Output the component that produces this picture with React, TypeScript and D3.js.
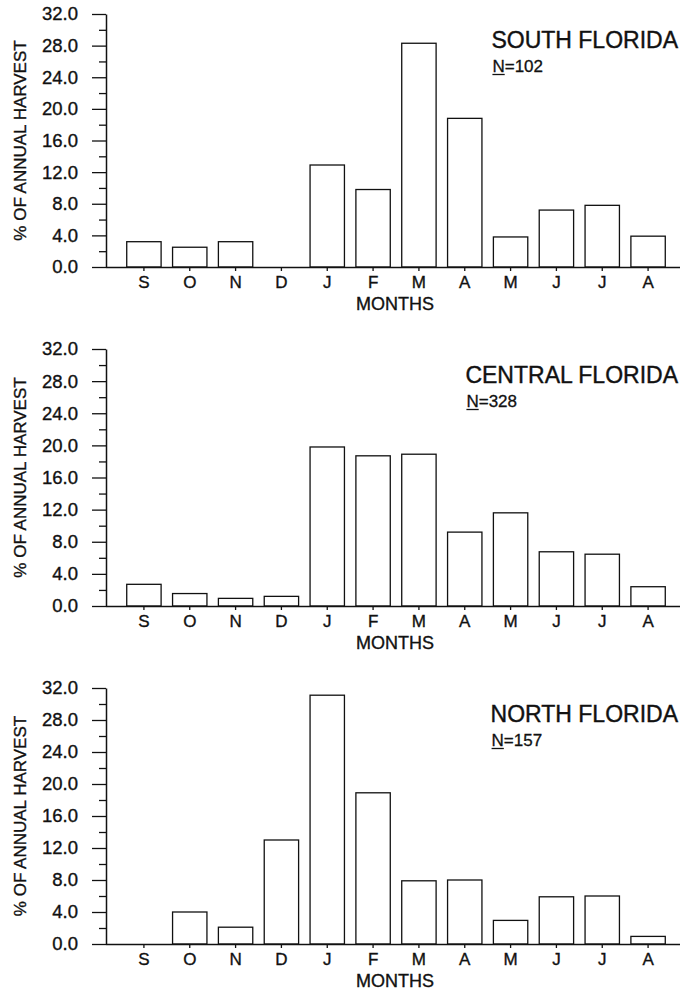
import React, { useEffect, useRef } from "react";
import * as d3 from "d3";

const months = ["S", "O", "N", "D", "J", "F", "M", "A", "M", "J", "J", "A"];
const southValues = [3.2, 2.5, 3.2, 0, 12.9, 9.8, 28.3, 18.8, 3.8, 7.2, 7.8, 3.9];
const centralValues = [2.7, 1.55, 0.95, 1.2, 19.8, 18.7, 18.9, 9.2, 11.6, 6.75, 6.45, 2.4];
const northValues = [0, 4.0, 2.1, 13.0, 31.1, 18.9, 7.9, 8.0, 2.95, 5.9, 6.0, 0.95];
const regionTitles = ["SOUTH FLORIDA", "CENTRAL FLORIDA", "NORTH FLORIDA"];
const sampleSizes = [102, 328, 157];
const yMajorTicks = [0, 4, 8, 12, 16, 20, 24, 28, 32];
const yMinorTicks = [2, 6, 10, 14, 18, 22, 26, 30];
const yLabel = "% OF ANNUAL HARVEST";
const xLabel = "MONTHS";

const W = 680;
const H = 993;
const FONT = "'Liberation Sans', Arial, Helvetica, sans-serif";
const INK = "#111";
const panelTops = [14, 349, 688];
const panelBottoms = [267, 606, 944];
const axisX = 106;

function ink(sel: any, size: number, sw = 0.35) {
  sel
    .attr("font-family", FONT)
    .attr("font-size", size)
    .attr("fill", INK)
    .attr("stroke", INK)
    .attr("stroke-width", sw);
}

export default function App() {
  const ref = useRef<SVGSVGElement | null>(null);

  useEffect(() => {
    const svg = d3.select(ref.current);
    svg.selectAll("*").remove();
    const series = [southValues, centralValues, northValues];

    const x = d3
      .scaleBand<number>()
      .domain(d3.range(months.length))
      .range([121, 671])
      .paddingInner(0.25)
      .paddingOuter(0.125);

    series.forEach((vals, p) => {
      const top = panelTops[p];
      const bottom = panelBottoms[p];
      const y = d3.scaleLinear().domain([0, 32]).range([bottom, top]);
      const g = svg.append("g");

      g.selectAll("rect.bar")
        .data(vals)
        .join("rect")
        .attr("class", "bar")
        .attr("x", (_, i) => x(i)!)
        .attr("width", x.bandwidth())
        .attr("y", (d) => y(d))
        .attr("height", (d) => y(0) - y(d))
        .attr("fill", "#fff")
        .attr("stroke", INK)
        .attr("stroke-width", 1.3);

      const yAxis = d3
        .axisLeft(y)
        .tickValues(yMajorTicks)
        .tickSize(14)
        .tickSizeOuter(0)
        .tickPadding(14)
        .tickFormat(d3.format(".1f") as any);
      const ya = g.append("g").attr("transform", `translate(${axisX},0)`).call(yAxis);
      ya.select(".domain").attr("stroke", INK).attr("stroke-width", 1.5);
      ya.selectAll(".tick line").attr("stroke", INK).attr("stroke-width", 1.3);
      ink(ya.selectAll(".tick text"), 18.5);

      const yMinor = d3.axisLeft(y).tickValues(yMinorTicks).tickSize(7).tickSizeOuter(0).tickFormat(() => "");
      const ym = g.append("g").attr("transform", `translate(${axisX},0)`).call(yMinor);
      ym.select(".domain").remove();
      ym.selectAll(".tick line").attr("stroke", INK).attr("stroke-width", 1.3);

      const xAxis = d3
        .axisBottom(x)
        .tickSize(4)
        .tickSizeOuter(0)
        .tickPadding(5)
        .tickFormat((i) => months[i as number]);
      const xa = g.append("g").attr("transform", `translate(0,${bottom})`).call(xAxis);
      xa.select(".domain").attr("d", `M${axisX},0.5H${W}`).attr("stroke", INK).attr("stroke-width", 1.5);
      xa.selectAll(".tick line").attr("stroke", INK).attr("stroke-width", 1.3);
      const xt = xa.selectAll(".tick text").attr("dy", null).attr("y", 21);
      ink(xt, 17);

      const xl = g
        .append("text")
        .attr("x", 395)
        .attr("y", bottom + 43)
        .attr("text-anchor", "middle")
        .text(xLabel);
      ink(xl, 18);

      const yl = g
        .append("text")
        .attr("transform", `translate(26,${(top + bottom) / 2}) rotate(-90)`)
        .attr("text-anchor", "middle")
        .text(yLabel);
      ink(yl, 17);

      const title = g
        .append("text")
        .attr("x", 678)
        .attr("y", top + 34)
        .attr("text-anchor", "end")
        .text(regionTitles[p]);
      ink(title, 23, 0.4);
      const tb = (title.node() as SVGTextElement).getBBox();
      const nx = tb.x + 1;
      const ny = top + 58;
      const nText = g.append("text").attr("x", nx).attr("y", ny).text("N");
      ink(nText, 17, 0.3);
      const nw = (nText.node() as SVGTextElement).getComputedTextLength();
      g.append("line")
        .attr("x1", nx)
        .attr("x2", nx + nw)
        .attr("y1", ny + 2.5)
        .attr("y2", ny + 2.5)
        .attr("stroke", INK)
        .attr("stroke-width", 1.3);
      const nv = g
        .append("text")
        .attr("x", nx + nw)
        .attr("y", ny)
        .text("=" + sampleSizes[p]);
      ink(nv, 17, 0.3);
    });
  }, []);

  return (
    <svg
      ref={ref}
      width={W}
      height={H}
      style={{ position: "absolute", left: 0, top: 0, background: "#fff" }}
    />
  );
}
